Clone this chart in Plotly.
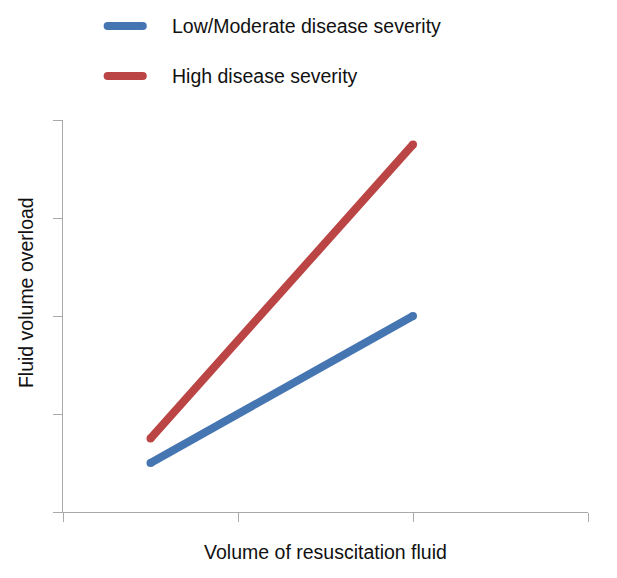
import plotly.graph_objects as go

series_names = ["Low/Moderate disease severity", "High disease severity"]
x_values = [0.5, 2.0]
low_mod_values = [0.5, 2.0]
high_values = [0.75, 3.75]
colors = ["#4676b2", "#bb4545"]
x_title = "Volume of resuscitation fluid"
y_title = "Fluid volume overload"

FONT = "Liberation Sans, Arial, Helvetica, sans-serif"
FS = 19.5

fig = go.Figure()
for name, vals, col in zip(series_names, [low_mod_values, high_values], colors):
    fig.add_trace(go.Scatter(
        x=x_values, y=vals, mode="lines+markers", name=name,
        line=dict(color=col, width=8),
        marker=dict(color=col, size=8, line=dict(width=0)),
        showlegend=False, hoverinfo="skip"))

# legend drawn manually
legend_y = [1.24, 1.112]
for name, col, ly in zip(series_names, colors, legend_y):
    fig.add_shape(type="line", xref="paper", yref="paper",
                  x0=0.085, x1=0.152, y0=ly, y1=ly,
                  line=dict(color=col, width=8))
    fig.add_shape(type="circle", xref="paper", yref="paper",
                  x0=0.085 - 0.0076, x1=0.085 + 0.0076, y0=ly - 0.0102, y1=ly + 0.0102,
                  fillcolor=col, line=dict(width=0))
    fig.add_shape(type="circle", xref="paper", yref="paper",
                  x0=0.152 - 0.0076, x1=0.152 + 0.0076, y0=ly - 0.0102, y1=ly + 0.0102,
                  fillcolor=col, line=dict(width=0))
    fig.add_annotation(text=name, xref="paper", yref="paper", x=0.204, y=ly,
                       xanchor="left", yanchor="middle", showarrow=False,
                       font=dict(family=FONT, size=FS, color="#111111"))

# y-axis title (placed slightly above centre, as in the reference)
fig.add_annotation(text=y_title, xref="paper", yref="paper", x=-0.0705, y=0.561,
                   xanchor="center", yanchor="middle", textangle=-90, showarrow=False,
                   font=dict(family=FONT, size=FS, color="#111111"))

axis_common = dict(showgrid=False, zeroline=False, showline=True, linecolor="#aaaaaa",
                   linewidth=1.3, ticks="outside", ticklen=9, tickcolor="#aaaaaa",
                   tickwidth=1.3, showticklabels=False, fixedrange=True)

fig.update_xaxes(range=[0, 3], tickvals=[0, 1, 2, 3],
                 title=dict(text=x_title, font=dict(family=FONT, size=FS, color="#111111"), standoff=24),
                 **axis_common)
fig.update_yaxes(range=[0, 4], tickvals=[0, 1, 2, 3, 4], **axis_common)

fig.update_layout(width=609, height=570, plot_bgcolor="white", paper_bgcolor="white",
                  margin=dict(l=55, r=29, t=112, b=66), showlegend=False)

fig.write_html("out.html")
